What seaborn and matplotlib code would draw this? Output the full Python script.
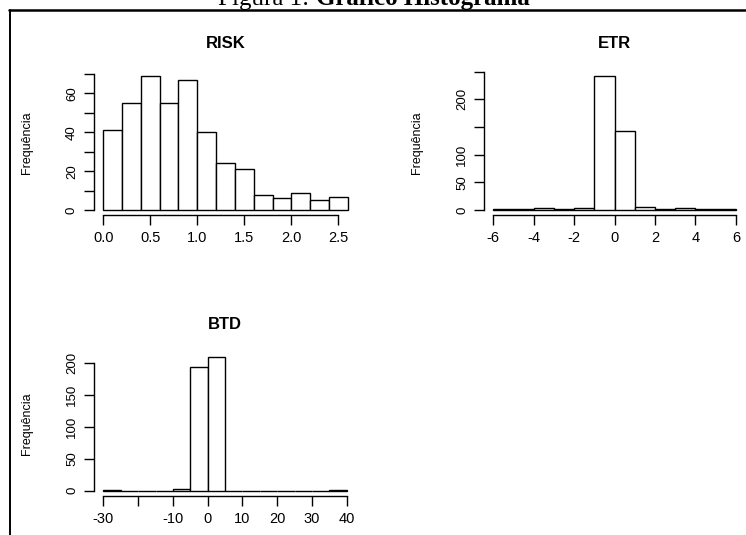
import matplotlib.pyplot as plt
import seaborn as sns
import numpy as np
import pandas as pd
from matplotlib.lines import Line2D

# histogram bins and frequencies
risk_edges = [0.0, 0.2, 0.4, 0.6, 0.8, 1.0, 1.2, 1.4, 1.6, 1.8, 2.0, 2.2, 2.4, 2.6]
risk_counts = [41, 55, 69, 55, 67, 40, 24, 21, 8, 6, 9, 5, 7]
risk_xticks = [0.0, 0.5, 1.0, 1.5, 2.0, 2.5]
risk_xlabels = ["0.0", "0.5", "1.0", "1.5", "2.0", "2.5"]
risk_yticks = [0, 10, 20, 30, 40, 50, 60, 70]
risk_ylabels = ["0", "", "20", "", "40", "", "60", ""]

etr_edges = [-6, -5, -4, -3, -2, -1, 0, 1, 2, 3, 4, 5, 6]
etr_counts = [2, 1, 4, 2, 4, 243, 143, 6, 2, 4, 1, 2]
etr_xticks = [-6, -4, -2, 0, 2, 4, 6]
etr_xlabels = ["-6", "-4", "-2", "0", "2", "4", "6"]
etr_yticks = [0, 50, 100, 150, 200, 250]
etr_ylabels = ["0", "50", "100", "", "200", ""]

btd_edges = [-30, -25, -20, -15, -10, -5, 0, 5, 10, 15, 20, 25, 30, 35, 40]
btd_counts = [1, 0, 0, 0, 2, 193, 209, 0, 0, 0, 0, 0, 0, 1]
btd_xticks = [-30, -20, -10, 0, 10, 20, 30, 40]
btd_xlabels = ["-30", "", "-10", "0", "10", "20", "30", "40"]
btd_yticks = [0, 50, 100, 150, 200]
btd_ylabels = ["0", "50", "100", "150", "200"]

sns.set_style("ticks")
plt.rcParams['font.family'] = ['Liberation Sans', 'DejaVu Sans']
plt.rcParams['text.color'] = 'black'
plt.rcParams['axes.labelcolor'] = 'black'
plt.rcParams['xtick.color'] = 'black'
plt.rcParams['ytick.color'] = 'black'

W, H = 746, 535
fig = plt.figure(figsize=(W / 100, H / 100), dpi=100)


def add_ax(left, top, width, height):
    return fig.add_axes([left / W, 1 - (top + height) / H, width / W, height / H])


def draw_hist(ax, title, edges, counts, xticks, xlabels, yticks, ylabels):
    mids = [(a + b) / 2 for a, b in zip(edges[:-1], edges[1:])]
    df = pd.DataFrame({"mid": mids, "n": counts})
    sns.histplot(data=df, x="mid", weights="n", bins=list(edges), ax=ax,
                 facecolor="white", edgecolor="black", linewidth=1.0, alpha=1)
    # R style 4% padding around the data range
    xr = edges[-1] - edges[0]
    ax.set_xlim(edges[0] - 0.04 * xr, edges[-1] + 0.04 * xr)
    ym = max(counts)
    ax.set_ylim(-0.04 * ym, ym * 1.04)
    for s in ["top", "right"]:
        ax.spines[s].set_visible(False)
    ax.spines["left"].set_bounds(yticks[0], yticks[-1])
    ax.spines["bottom"].set_bounds(xticks[0], xticks[-1])
    for s in ["left", "bottom"]:
        ax.spines[s].set_linewidth(1.0)
        ax.spines[s].set_color("black")
    ax.set_xticks(xticks)
    ax.set_xticklabels(xlabels, fontsize=10.5)
    ax.set_yticks(yticks)
    ax.set_yticklabels(ylabels, fontsize=9.5, rotation=90, va="center")
    ax.tick_params(direction="out", length=7.2, width=1.0, color="black", pad=4)
    ax.set_xlabel("")
    ax.set_ylabel("Frequência", fontsize=9)
    ax.yaxis.set_label_coords(-61 / ax.bbox.width, 0.5)
    ax.set_title(title, fontsize=12, fontweight="bold", pad=16, color="black")


ax1 = add_ax(93.5, 70.5, 264, 145)
draw_hist(ax1, "RISK", risk_edges, risk_counts, risk_xticks, risk_xlabels, risk_yticks, risk_ylabels)

ax2 = add_ax(483.6, 70.2, 262, 145)
draw_hist(ax2, "ETR", etr_edges, etr_counts, etr_xticks, etr_xlabels, etr_yticks, etr_ylabels)

ax3 = add_ax(93.6, 351.6, 263, 144.4)
draw_hist(ax3, "BTD", btd_edges, btd_counts, btd_xticks, btd_xlabels, btd_yticks, btd_ylabels)

# document caption (cut off at the top) and page frame
fig.text(218 / W, 1 - 5 / H, "Figura 1: ", fontsize=18, family="Liberation Serif",
         ha="left", va="baseline")
fig.text(316 / W, 1 - 5 / H, "Gráfico Histograma", fontsize=18, family="Liberation Serif",
         fontweight="bold", ha="left", va="baseline")
fig.add_artist(Line2D([9 / W, 1], [1 - 9.5 / H, 1 - 9.5 / H], color="black", linewidth=1.8))
fig.add_artist(Line2D([9.5 / W, 9.5 / W], [0, 1 - 9.5 / H], color="black", linewidth=1.4))

fig.savefig("out.png", dpi=100)
